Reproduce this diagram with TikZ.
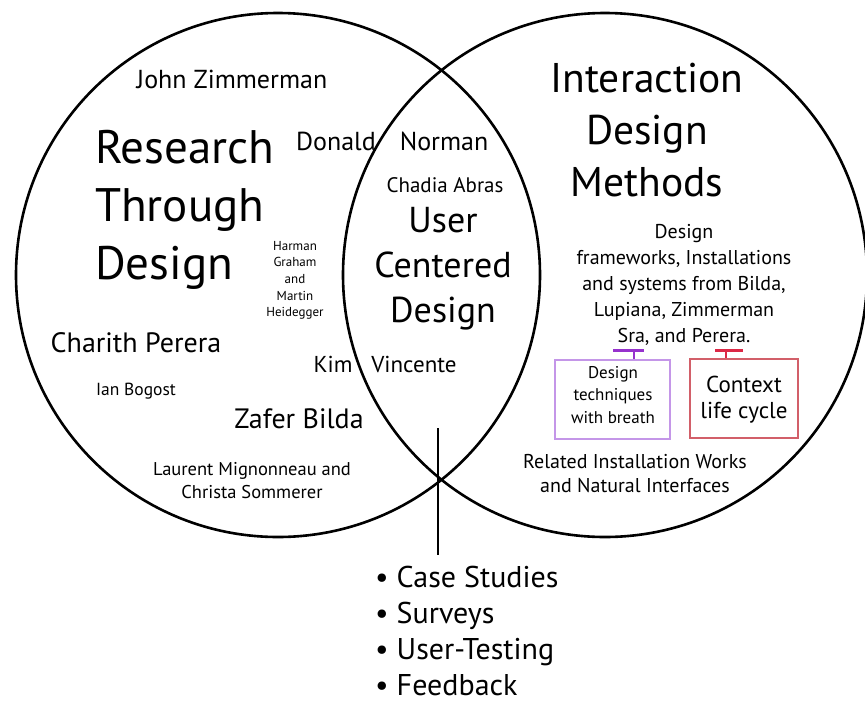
\documentclass[tikz,border=0pt]{standalone}
\usepackage{fontspec}
\setmainfont{PT Sans}
\definecolor{purpEdge}{RGB}{196,150,232}
\definecolor{purpBar}{RGB}{150,50,205}
\definecolor{redEdge}{RGB}{210,95,105}
\definecolor{redBar}{RGB}{220,40,70}
\newcommand{\fs}[2]{\fontsize{#1}{#2}\selectfont}
\newcommand{\mlc}[1]{\begin{tabular}[t]{@{}c@{}}#1\end{tabular}}
\newcommand{\mll}[1]{\begin{tabular}[t]{@{}l@{}}#1\end{tabular}}
\begin{document}
\begin{tikzpicture}[x=1pt,y=-1pt,
  txt/.style={inner sep=0pt,anchor=base},
  bul/.style={inner sep=0pt,anchor=base west,font=\fs{30}{36}},
  venn/.style={circle,draw,line width=2.6pt,minimum size=524pt,inner sep=0pt},
  techbox/.style={draw,line width=1.1pt,inner sep=0pt}]
\useasboundingbox (0,0) rectangle (865,702);
\node[venn] (L) at (278,275) {};
\node[venn] (R) at (605,275) {};
% left circle texts
\node[txt] (jz) at (232,88) {\fs{26}{30}John Zimmerman};
\node[txt,anchor=base west] (rtd) at (95,163) {\fs{47}{58}\mll{Research\\Through\\Design}};
\node[txt] (don) at (336,150) {\fs{26}{30}Donald};
\node[txt] (nor) at (444,150) {\fs{26}{30}Norman};
\node[txt] (cha) at (445,192) {\fs{21}{24}Chadia Abras};
\node[txt] (ucd) at (443,232) {\fs{36}{45}\mlc{User\\Centered\\Design}};
\node[txt] (har) at (295,250) {\fs{13}{16.7}\mlc{Harman\\Graham\\and\\Martin\\Heidegger}};
\node[txt] (cp) at (136,352) {\fs{28}{30}Charith Perera};
\node[txt] (ib) at (136,395) {\fs{17.5}{20}Ian Bogost};
\node[txt] (zb) at (299,428) {\fs{28}{30}Zafer Bilda};
\node[txt] (lm) at (252,475) {\fs{18.5}{23}\mlc{Laurent Mignonneau and\\Christa Sommerer}};
\node[txt] (kim) at (333,372) {\fs{23}{28}Kim};
\node[txt] (vin) at (414,372) {\fs{23}{28}Vincente};
% right circle texts
\node[txt] (idm) at (647,92) {\fs{41.5}{52}\mlc{Interaction\\Design\\Methods}};
\node[txt] (dfw) at (684,238) {\fs{20}{26}\mlc{Design\\frameworks, Installations\\and systems from Bilda,\\Lupiana, Zimmerman\\Sra, and Perera.}};
\node[techbox,draw=purpEdge,minimum width=115pt,minimum height=79pt] (pbox) at (612.5,399.5) {};
\node[txt] (pt) at (613,378) {\fs{17}{22.5}\mlc{Design\\techniques\\with breath}};
\node[techbox,draw=redEdge,minimum width=108pt,minimum height=79pt] (rbox) at (744,398.5) {};
\node[txt] (rt) at (744,392) {\fs{23}{26}\mlc{Context\\life cycle}};
\coordinate (pbar) at (634,350);
\coordinate (rbar) at (726,350);
\draw[purpBar,line width=3pt] (613,350) -- (644,350);
\draw[purpBar,line width=2pt] (pbar) -- (pbox.north -| pbar);
\draw[redBar,line width=3pt] (715,350) -- (743,350);
\draw[redBar,line width=2pt] (rbar) -- (rbox.north -| rbar);
\node[txt] (rel) at (635,468) {\fs{20}{24}\mlc{Related Installation Works\\and Natural Interfaces}};
% stem and list
\node[bul] (l1) at (375,587) {\textbullet\ Case Studies};
\node[bul] (l2) at (375,623) {\textbullet\ Surveys};
\node[bul] (l3) at (375,659) {\textbullet\ User-Testing};
\node[bul] (l4) at (375,695) {\textbullet\ Feedback};
\coordinate (stemtop) at (438,428);
\coordinate (stembot) at (438,555);
\draw[line width=2.6pt] (stemtop) -- (stembot);
\end{tikzpicture}
\end{document}
